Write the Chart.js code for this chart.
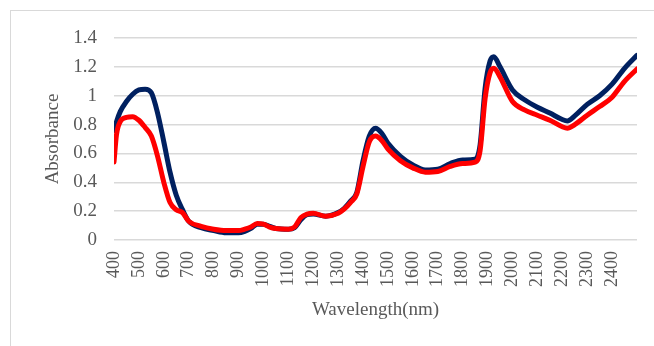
<!DOCTYPE html>
<html>
<head>
<meta charset="utf-8">
<script src="https://cdn.jsdelivr.net/npm/chart.js@4.4.1/dist/chart.umd.min.js"></script>
<style>
  html, body { margin: 0; padding: 0; background: #fff; overflow: hidden; }
  #frame { position: absolute; left: 10px; top: 10px; width: 700px; height: 400px; border: 1px solid #d9d9d9; }
  #chart { position: absolute; left: 0; top: 0; }
</style>
</head>
<body>
<div id="frame"></div>
<canvas id="chart" width="654" height="346"></canvas>
<script>
// ======================= DATA =======================
const wavelengths = [400, 410, 425, 450, 475, 500, 525, 550, 575, 600, 625, 650, 675, 700, 750,
  800, 850, 900, 925, 950, 975, 1000, 1025, 1050, 1100, 1125, 1150, 1175, 1200, 1250,
  1300, 1325, 1350, 1375, 1400, 1425, 1450, 1475, 1500, 1550, 1600, 1650, 1700, 1750,
  1800, 1850, 1870, 1890, 1910, 1925, 1950, 2000, 2050, 2100, 2150, 2200, 2220, 2250,
  2300, 2350, 2400, 2450, 2500];

const blueSeries = [0.76, 0.82, 0.89, 0.96, 1.01, 1.04, 1.045, 1.02, 0.88, 0.68, 0.47, 0.31, 0.21, 0.13, 0.085,
  0.065, 0.05, 0.05, 0.06, 0.08, 0.11, 0.11, 0.095, 0.08, 0.075, 0.085, 0.14, 0.175, 0.18, 0.165,
  0.19, 0.22, 0.27, 0.33, 0.55, 0.72, 0.775, 0.74, 0.67, 0.58, 0.52, 0.485, 0.49, 0.53,
  0.555, 0.56, 0.66, 1.05, 1.24, 1.27, 1.2, 1.04, 0.97, 0.92, 0.88, 0.835, 0.825, 0.86,
  0.94, 1.0, 1.08, 1.19, 1.28];

const redSeries = [0.54, 0.73, 0.82, 0.85, 0.855, 0.83, 0.78, 0.72, 0.58, 0.40, 0.26, 0.21, 0.19, 0.13, 0.095,
  0.075, 0.065, 0.065, 0.075, 0.09, 0.115, 0.11, 0.09, 0.08, 0.075, 0.09, 0.155, 0.18, 0.185, 0.165,
  0.185, 0.215, 0.26, 0.32, 0.51, 0.68, 0.72, 0.69, 0.63, 0.55, 0.50, 0.47, 0.475, 0.51,
  0.53, 0.54, 0.62, 0.98, 1.16, 1.19, 1.13, 0.96, 0.90, 0.865, 0.83, 0.785, 0.775, 0.80,
  0.865, 0.925, 0.99, 1.10, 1.185];

const yTicks = [0, 0.2, 0.4, 0.6, 0.8, 1, 1.2, 1.4];

// ======================= CHART =======================
const toPoints = vals => vals.map((v, i) => ({ x: wavelengths[i], y: v }));
const textColor = '#595959';
const serif = "'Liberation Serif', 'Times New Roman', serif";

new Chart(document.getElementById('chart'), {
  type: 'line',
  data: {
    datasets: [
      { data: toPoints(blueSeries), borderColor: '#002060', borderWidth: 5, order: 2 },
      { data: toPoints(redSeries), borderColor: '#ff0000', borderWidth: 5, order: 1 }
    ]
  },
  options: {
    responsive: false,
    animation: false,
    events: [],
    layout: { padding: { top: 38, right: 17, bottom: 0, left: 0 } },
    elements: {
      point: { radius: 0 },
      line: { tension: 0.4, cubicInterpolationMode: 'monotone', borderCapStyle: 'round', borderJoinStyle: 'round' }
    },
    plugins: { legend: { display: false }, tooltip: { enabled: false } },
    scales: {
      x: {
        type: 'linear',
        min: 400,
        max: 2500,
        grid: { display: false },
        border: { display: false },
        ticks: {
          stepSize: 100,
          minRotation: 90,
          maxRotation: 90,
          padding: 3,
          color: textColor,
          font: { family: serif, size: 18 },
          callback: v => (v >= 2500 ? '' : String(v))
        },
        title: {
          display: true,
          text: 'Wavelength(nm)',
          color: textColor,
          font: { family: serif, size: 19 },
          padding: { top: 0, bottom: 24.6 }
        },
        afterFit: s => { s.height = 106; s.paddingLeft = 0; s.paddingRight = 0; }
      },
      y: {
        min: 0,
        max: 1.4,
        grid: { color: '#d9d9d9', lineWidth: 1.5, drawTicks: false },
        border: { display: false },
        afterBuildTicks: s => { s.ticks = yTicks.map(v => ({ value: v })); },
        ticks: {
          padding: 17,
          color: textColor,
          font: { family: serif, size: 19 },
          callback: v => String(Math.round(v * 10) / 10)
        },
        title: {
          display: true,
          text: 'Absorbance',
          color: textColor,
          font: { family: serif, size: 19 },
          padding: { top: 41.6, bottom: 0 }
        },
        afterFit: s => { s.width = 114; }
      }
    }
  }
});
</script>
</body>
</html>
